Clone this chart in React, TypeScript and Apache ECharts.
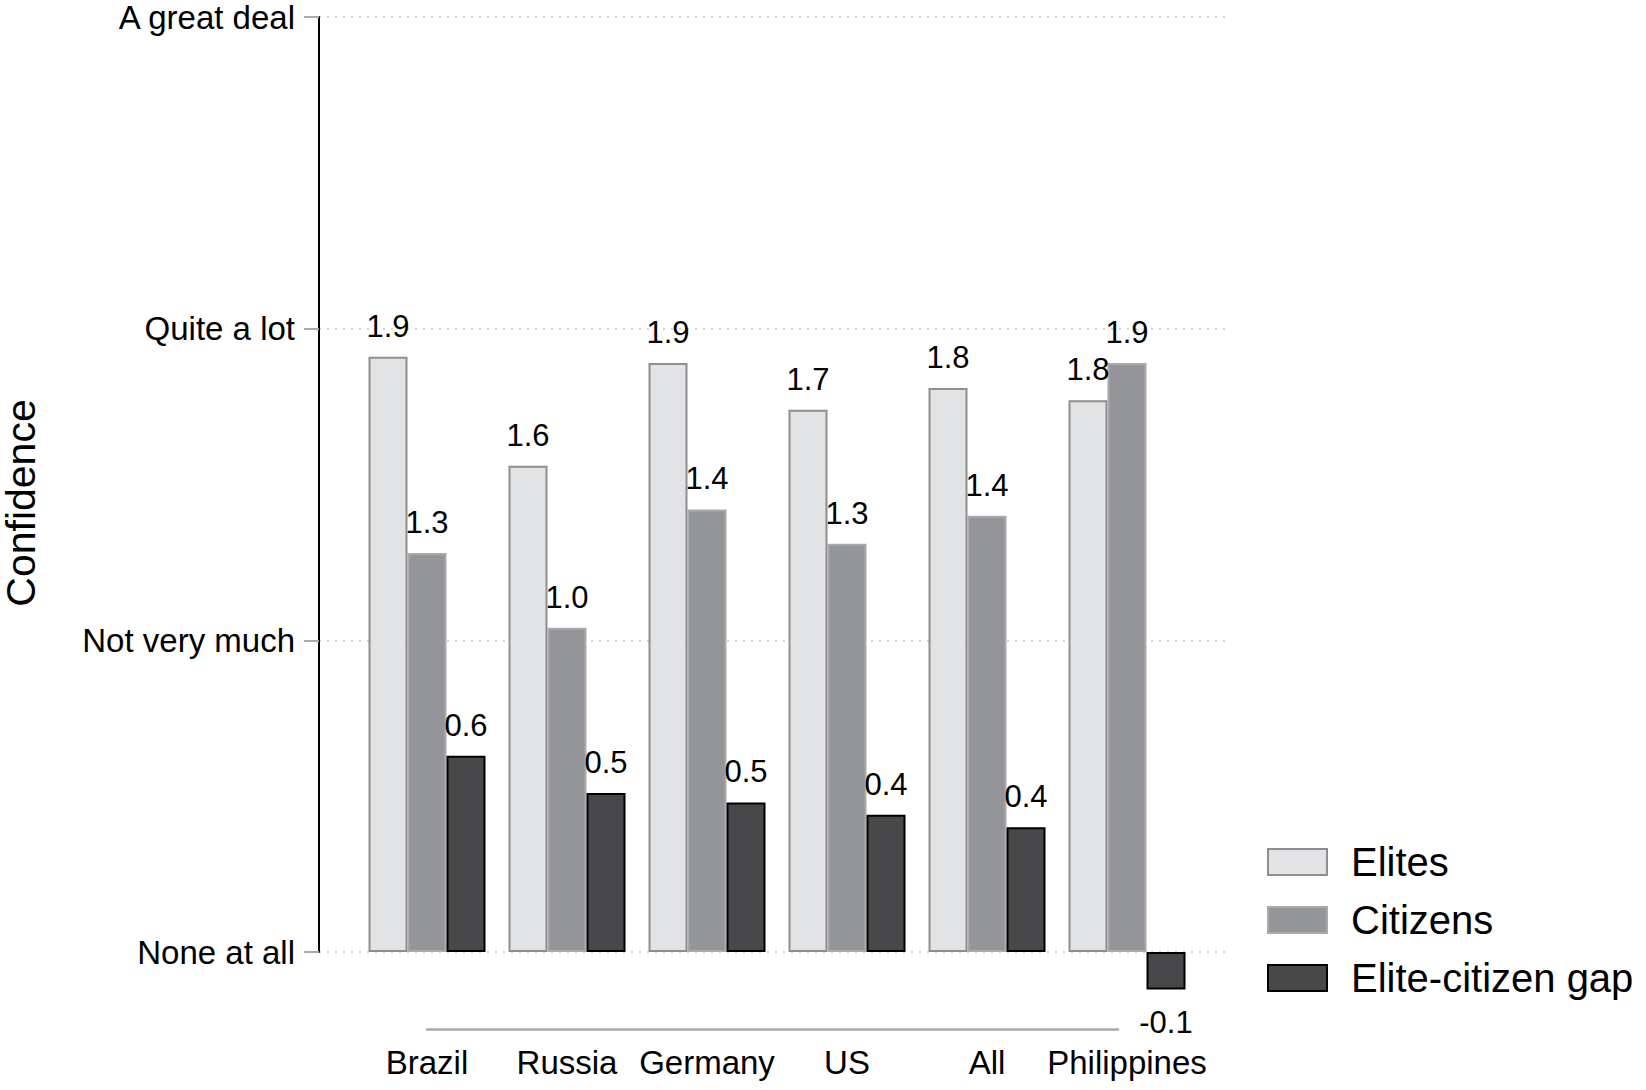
import React, { useEffect, useRef } from "react";
import * as echarts from "echarts";

const countries = ["Brazil", "Russia", "Germany", "US", "All", "Philippines"];
const elites = [1.91, 1.56, 1.89, 1.74, 1.81, 1.77];
const citizens = [1.28, 1.04, 1.42, 1.31, 1.4, 1.89];
const gap = [0.63, 0.51, 0.48, 0.44, 0.4, -0.12];
const yTickLabels = ["None at all", "Not very much", "Quite a lot", "A great deal"];
const seriesNames = ["Elites", "Citizens", "Elite-citizen gap"];
const yTitle = "Confidence";

const FONT = "'Liberation Sans', Arial, Helvetica, sans-serif";

// plot geometry: value 0 at y=952, value 3 at y=TOP
const TOP = 17;
const ZERO_Y = 952;
const PER_UNIT = (ZERO_Y - TOP) / 3;
const Y_MIN = -0.2;
const BAR_BOTTOM_PX = ZERO_Y + -Y_MIN * PER_UNIT;

export default function App() {
  const ref = useRef<HTMLDivElement>(null);
  useEffect(() => {
    document.body.style.margin = "0";
    if (!ref.current) return;
    const chart = echarts.init(ref.current, null, { renderer: "svg" });
    const label = (pos: "top" | "bottom") => ({
      show: true,
      position: pos,
      distance: 15,
      fontSize: 31,
      color: "#000",
      fontFamily: FONT,
      formatter: (p: any) => Number(p.value).toFixed(1),
    });
    const option: any = {
      animation: false,
      backgroundColor: "#fff",
      textStyle: { fontFamily: FONT },
      grid: [
        { left: 357, right: 449, top: TOP, bottom: 1090 - BAR_BOTTOM_PX },
        { left: 319, right: 416, top: TOP, bottom: 1090 - ZERO_Y },
        { left: 427, right: 528, top: TOP, bottom: 61 },
      ],
      xAxis: [
        {
          gridIndex: 0,
          type: "category",
          data: countries,
          axisLine: { show: false },
          axisTick: { show: false },
          splitLine: { show: false },
          axisLabel: {
            interval: 0,
            margin: 94 - (BAR_BOTTOM_PX - ZERO_Y),
            fontSize: 33,
            color: "#000",
            fontFamily: FONT,
          },
        },
        { gridIndex: 1, type: "value", show: false, min: 0, max: 1 },
        {
          gridIndex: 2,
          type: "value",
          min: 0,
          max: 1,
          axisLine: { show: true, lineStyle: { color: "#aaaaaa", width: 2.5 } },
          axisTick: { show: false },
          axisLabel: { show: false },
          splitLine: { show: false },
        },
      ],
      yAxis: [
        { gridIndex: 0, type: "value", min: Y_MIN, max: 3, show: false },
        {
          gridIndex: 1,
          type: "value",
          min: 0,
          max: 3,
          interval: 1,
          axisLine: { show: true, lineStyle: { color: "#000", width: 2 } },
          axisTick: { show: true, length: 15, lineStyle: { color: "#aaaaaa", width: 2 } },
          axisLabel: {
            margin: 24,
            fontSize: 33,
            lineHeight: 24,
            color: "#000",
            fontFamily: FONT,
            formatter: (v: number) => yTickLabels[v] ?? "",
          },
          splitLine: { show: true, lineStyle: { color: "#c8c8c8", width: 1.5, type: [2, 6] } },
        },
        { gridIndex: 2, type: "value", min: 0, max: 1, show: false },
      ],
      legend: {
        orient: "vertical",
        left: 1262,
        top: 837,
        itemWidth: 59,
        itemHeight: 26,
        itemGap: 18,
        icon: "rect",
        data: seriesNames,
        textStyle: { fontSize: 40, color: "#000", fontFamily: FONT, padding: [0, 0, 0, 19] },
      },
      series: [
        {
          name: seriesNames[0],
          type: "bar",
          xAxisIndex: 0,
          yAxisIndex: 0,
          data: elites,
          barWidth: 39,
          barGap: "0%",
          itemStyle: { color: "#e2e3e5", borderColor: "#8e8e90", borderWidth: 2 },
          label: label("top"),
        },
        {
          name: seriesNames[1],
          type: "bar",
          xAxisIndex: 0,
          yAxisIndex: 0,
          data: citizens,
          barWidth: 39,
          barGap: "0%",
          itemStyle: { color: "#939598", borderColor: "#a9aaac", borderWidth: 2 },
          label: label("top"),
        },
        {
          name: seriesNames[2],
          type: "bar",
          xAxisIndex: 0,
          yAxisIndex: 0,
          data: gap.map((v) => (v < 0 ? { value: v, label: { position: "bottom", distance: 18 } } : v)),
          barWidth: 39,
          barGap: "0%",
          itemStyle: { color: "#48484a", borderColor: "#000", borderWidth: 2 },
          label: label("top"),
        },
      ],
      graphic: [
        {
          type: "text",
          x: 21,
          y: 503,
          rotation: Math.PI / 2,
          style: {
            text: yTitle,
            fontSize: 41,
            lineHeight: 34,
            fill: "#000",
            fontFamily: FONT,
            textAlign: "center",
            textVerticalAlign: "middle",
          },
        },
      ],
    };
    chart.setOption(option);
    return () => chart.dispose();
  }, []);
  return <div ref={ref} style={{ width: 1646, height: 1090 }} />;
}
